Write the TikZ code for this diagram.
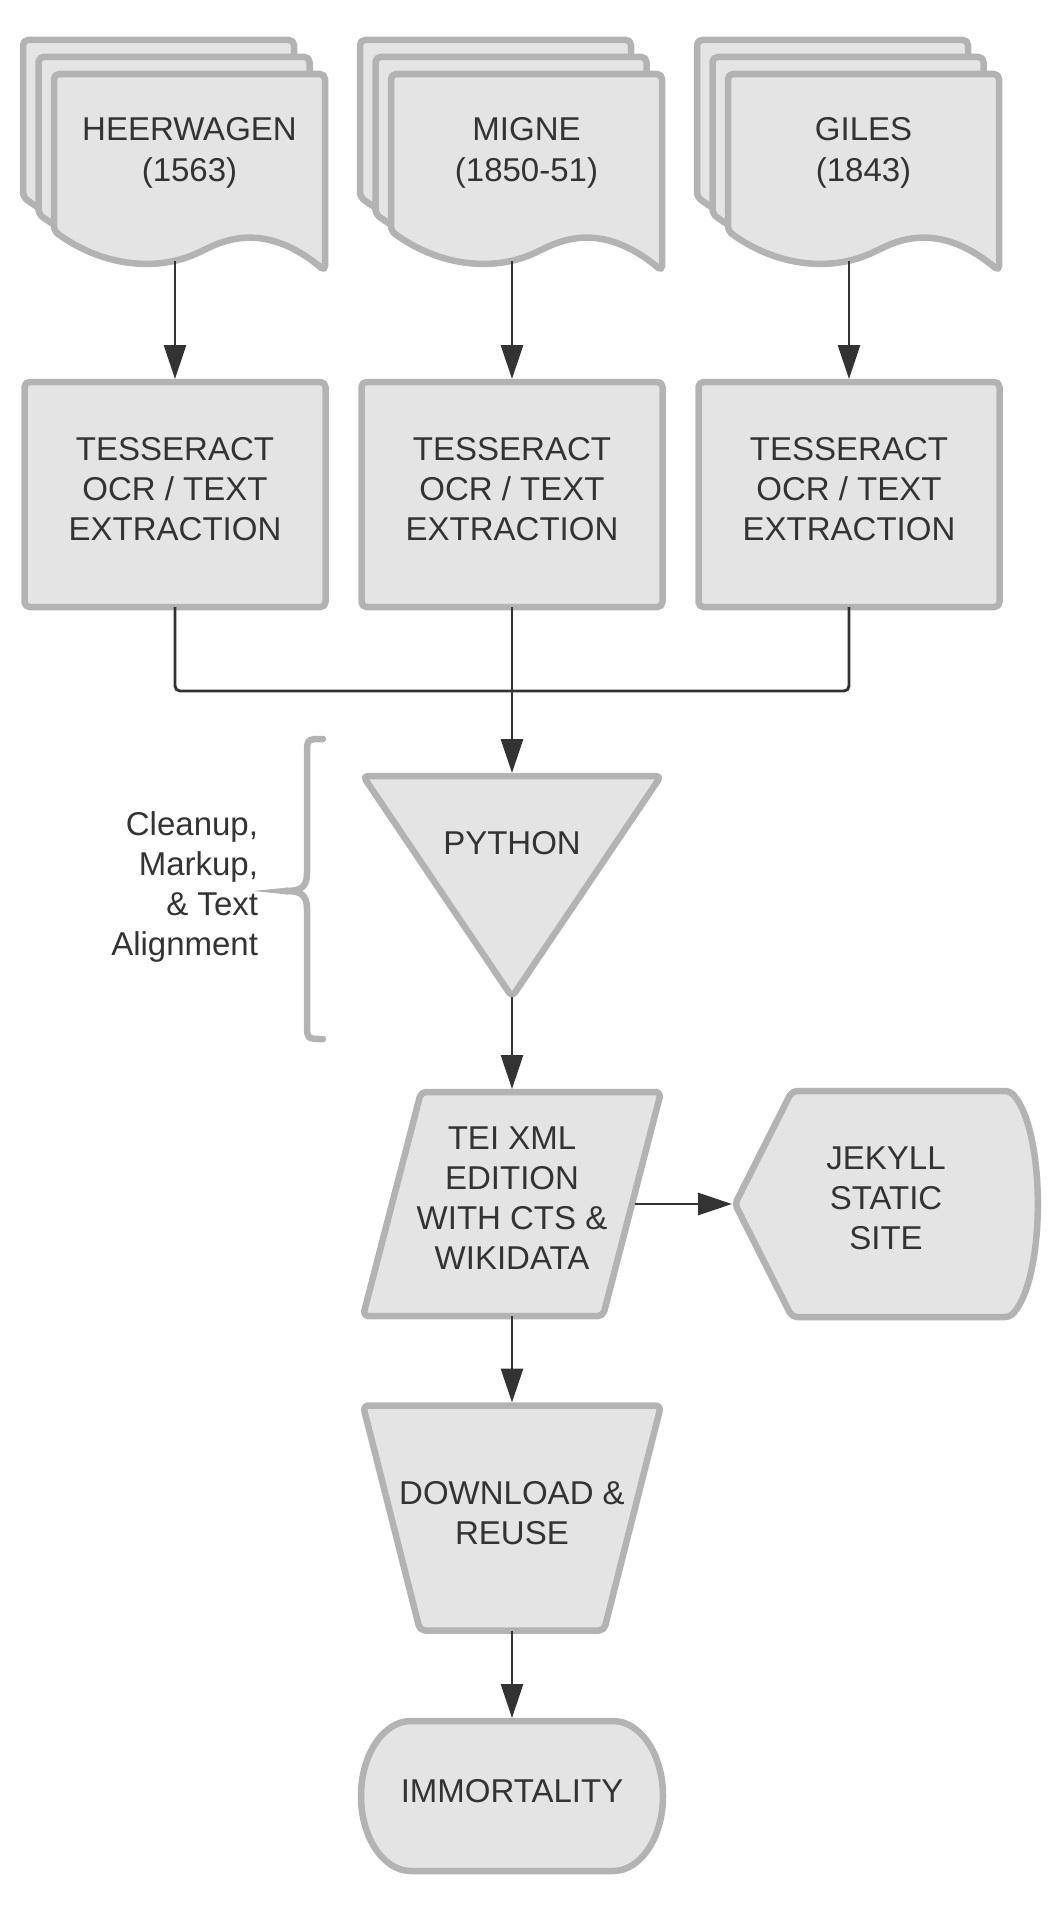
\documentclass[tikz,border=0pt]{standalone}
\usepackage{fontspec}
\setmainfont{Liberation Sans}
\usetikzlibrary{arrows.meta,backgrounds}
\definecolor{boxfill}{HTML}{E4E4E4}
\definecolor{boxline}{HTML}{B3B3B3}
\definecolor{ink}{HTML}{333333}
\newcommand{\dip}{\rule[-11pt]{0pt}{11pt}}
\tikzset{
  docpage/.pic={
    \draw[outline] (0,157) -- (0,0) -- (271,0) -- (271,197)
      .. controls (215,150) and (175,164) .. (150,176)
      .. controls (100,200) and (45,190) .. (0,157) -- cycle;
  }
}
\begin{document}
\begin{tikzpicture}[x=1pt, y=-1pt,
  outline/.style={draw=boxline, fill=boxfill, line width=6.5pt, rounded corners=5pt, line join=round},
  lbl/.style={inner sep=0pt, outer sep=0pt, text=ink, align=center, font=\fontsize{33}{40}\selectfont},
  box/.style={lbl, outline, minimum width=301pt, minimum height=225pt},
  link/.style={draw=ink, line width=2.9pt},
  arrow/.style={link, -{Triangle[length=34pt, width=22pt]}, shorten >=3pt},
  bracket/.style={draw=boxline, line width=6.5pt, line cap=round}]
\useasboundingbox (0,0) rectangle (1057,1911);

% source stacks
\pic at (23,40) {docpage};
\pic at (38.5,57) {docpage};
\pic at (54,74) {docpage};
\pic at (360,40) {docpage};
\pic at (375.5,57) {docpage};
\pic at (391,74) {docpage};
\pic at (697,40) {docpage};
\pic at (712.5,57) {docpage};
\pic at (728,74) {docpage};
\node[lbl, font=\fontsize{33}{41}\selectfont, minimum width=271pt, minimum height=213pt] (heer) at (189.5,154.5) {HEERWAGEN\\(1563)\dip};
\node[lbl, font=\fontsize{33}{41}\selectfont, minimum width=271pt, minimum height=213pt] (migne) at (526.5,154.5) {MIGNE\\(1850-51)\dip};
\node[lbl, font=\fontsize{33}{41}\selectfont, minimum width=271pt, minimum height=213pt] (giles) at (863.5,154.5) {GILES\\(1843)\dip};

% ocr
\node[box] (ocr1) at (175,494.5) {TESSERACT\\OCR / TEXT\\EXTRACTION\dip};
\node[box] (ocr2) at (512,494.5) {TESSERACT\\OCR / TEXT\\EXTRACTION\dip};
\node[box] (ocr3) at (849,494.5) {TESSERACT\\OCR / TEXT\\EXTRACTION\dip};
\coordinate (merge) at (512,691);

% pipeline
\node[lbl, text depth=87pt, minimum width=298pt, minimum height=221pt] (py) at (512,886.5) {PYTHON};
\node[lbl, minimum width=298pt, minimum height=224pt] (tei) at (512,1204) {TEI XML\\EDITION\\WITH CTS \&\\WIKIDATA\dip};
\node[lbl, minimum width=302pt, minimum height=226pt] (jek) at (886,1204) {JEKYLL\\STATIC\\SITE\dip};
\node[lbl, minimum width=298pt, minimum height=225pt] (dl) at (512,1518) {DOWNLOAD \&\\REUSE\dip};
\node[lbl, minimum width=302pt, minimum height=150pt] (imm) at (512,1796) {IMMORTALITY\dip};
\node[lbl, align=right, anchor=east] (note) at (258,887) {Cleanup,\\Markup,\\\& Text\\Alignment};

\begin{pgfonlayer}{background}
\draw[outline] (py.north west) -- (py.north east) -- (py.south) -- cycle;
\draw[outline] ([xshift=58pt]tei.north west) -- (tei.north east) -- ([xshift=-58pt]tei.south east) -- (tei.south west) -- cycle;
\draw[outline] (jek.west) -- ([xshift=57pt]jek.north west) -- ([xshift=-27pt]jek.north east)
  .. controls ([xshift=9pt,yshift=-40pt]jek.north east) and ([xshift=9pt,yshift=40pt]jek.south east) .. ([xshift=-27pt]jek.south east)
  -- ([xshift=57pt]jek.south west) -- cycle;
\draw[outline] (dl.north west) -- (dl.north east) -- ([xshift=-57pt]dl.south east) -- ([xshift=57pt]dl.south west) -- cycle;
\draw[outline, sharp corners] ([xshift=50pt]imm.north west) -- ([xshift=-50pt]imm.north east)
  arc[start angle=90, end angle=-90, x radius=50pt, y radius=75pt]
  -- ([xshift=50pt]imm.south west)
  arc[start angle=270, end angle=90, x radius=50pt, y radius=75pt] -- cycle;
\end{pgfonlayer}

% brace
\draw[bracket] (323,739) .. controls (307,739) .. (307,755) -- (307,873) .. controls (307,887) and (301,891) .. (286,891);
\draw[bracket] (323,1039) .. controls (307,1039) .. (307,1023) -- (307,909) .. controls (307,895) and (301,891) .. (286,891);
\fill[boxline] (288,887.5) -- (253,891) -- (288,894.5) -- cycle;

% connectors
\draw[arrow] (heer.south -| ocr1.north) -- (ocr1.north);
\draw[arrow] (migne.south -| ocr2.north) -- (ocr2.north);
\draw[arrow] (giles.south -| ocr3.north) -- (ocr3.north);
\draw[link, rounded corners=5pt] (ocr1.south) |- (merge) -| (ocr3.south);
\draw[arrow] (ocr2.south) -- (py.north);
\draw[arrow] (py.south) -- (tei.north);
\draw[arrow] ([xshift=-26pt]tei.east) -- (jek.west);
\draw[arrow] (tei.south) -- (dl.north);
\draw[arrow] (dl.south) -- (imm.north);
\end{tikzpicture}
\end{document}
